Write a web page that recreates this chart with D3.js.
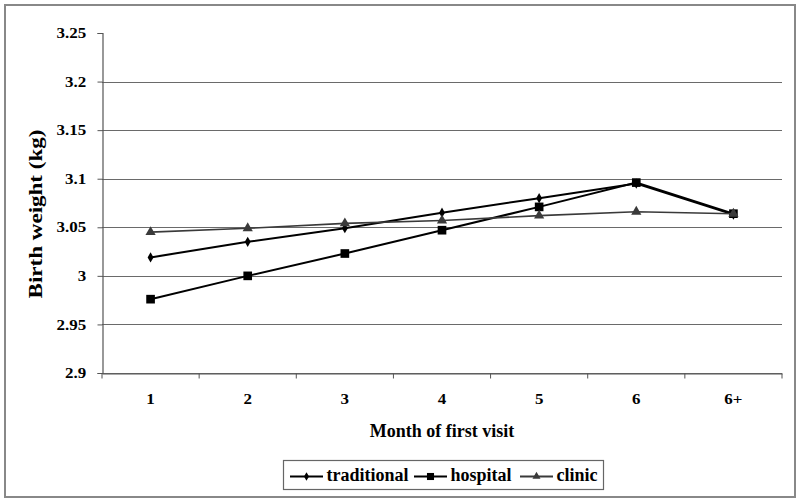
<!DOCTYPE html>
<html>
<head>
<meta charset="utf-8">
<script src="https://cdn.jsdelivr.net/npm/d3@7"></script>
<style>
body{margin:0;background:#fff;}
text{font-family:"Liberation Serif","Times New Roman",serif;font-weight:bold;fill:#000;}
</style>
</head>
<body>
<script>
var months=["1","2","3","4","5","6","6+"];
var traditional=[3.019,3.035,3.049,3.065,3.080,3.095,3.063];
var hospital=[2.976,3.000,3.023,3.047,3.071,3.096,3.064];
var clinic=[3.045,3.049,3.054,3.057,3.062,3.066,3.064];
var yTicks=[2.9,2.95,3,3.05,3.1,3.15,3.2,3.25];

var series=[
    {name:"traditional",values:traditional,color:"#000",marker:"diamond"},
    {name:"hospital",values:hospital,color:"#000",marker:"square"},
    {name:"clinic",values:clinic,color:"#3a3a3a",marker:"triangle"}
];

var W=800,H=502;
var svg=d3.select("body").append("svg").attr("width",W).attr("height",H);

// outer frame
svg.append("rect").attr("x",5).attr("y",5).attr("width",790).attr("height",492)
    .attr("fill","#fff").attr("stroke","#888").attr("stroke-width",2);

var x=d3.scaleBand().domain(months).range([102,782]);
var y=d3.scaleLinear().domain([2.9,3.25]).range([373,33]);

// gridlines
svg.append("g").selectAll("line").data(yTicks.slice(0,-1))
    .join("line")
    .attr("x1",102).attr("x2",782)
    .attr("y1",function(d){return Math.round(y(d))+0.5;})
    .attr("y2",function(d){return Math.round(y(d))+0.5;})
    .attr("stroke","#6a6a6a").attr("stroke-width",1.2);

// y axis
var yAxis=svg.append("g").attr("transform","translate(102.5,0)")
    .call(d3.axisLeft(y).tickValues(yTicks).tickSize(5).tickPadding(9).tickFormat(function(d){return String(+d.toFixed(2));}));
yAxis.select(".domain").attr("stroke","#555").attr("stroke-width",1.2);
yAxis.selectAll(".tick line").attr("stroke","#555");
yAxis.selectAll("text").style("font-size","14.5px").attr("transform","scale(1.17,1)");

// x axis
var xAxis=svg.append("g").attr("transform","translate(0,373.5)")
    .call(d3.axisBottom(x).tickSize(0).tickPadding(20));
xAxis.select(".domain").attr("stroke","#555").attr("stroke-width",1.2);
xAxis.selectAll("text").style("font-size","14.5px").attr("transform","scale(1.17,1)");
xAxis.selectAll(".bt").data(months.concat(["end"])).join("line")
    .attr("x1",function(d,i){return i<months.length?x(d):x.range()[1];})
    .attr("x2",function(d,i){return i<months.length?x(d):x.range()[1];})
    .attr("y1",0).attr("y2",5).attr("stroke","#555");

// axis titles
svg.append("text").attr("x",442).attr("y",437).attr("text-anchor","middle")
    .style("font-size","18px").text("Month of first visit");
svg.append("text").attr("transform","translate(42,214) rotate(-90) scale(1.28,1)").attr("text-anchor","middle")
    .style("font-size","18px").text("Birth weight (kg)");

var markerPath={
    diamond:d3.symbol().type(d3.symbolDiamond).size(30),
    square:d3.symbol().type(d3.symbolSquare).size(75),
    triangle:d3.symbol().type(d3.symbolTriangle).size(45)
};
var legendMarker={
    diamond:d3.symbol().type(d3.symbolDiamond).size(22),
    square:d3.symbol().type(d3.symbolSquare).size(50),
    triangle:d3.symbol().type(d3.symbolTriangle).size(28)
};

var line=d3.line()
    .x(function(d,i){return x(months[i])+x.bandwidth()/2;})
    .y(function(d){return y(d);});

var lineGroup=svg.append("g");
series.forEach(function(s){
    var g=lineGroup.append("g");
    g.append("path").attr("d",line(s.values)).attr("fill","none")
        .attr("stroke",s.color).attr("stroke-width",s.marker=="triangle"?1.6:2);
    g.selectAll("path.m").data(s.values).join("path").attr("class","m")
        .attr("transform",function(d,i){return "translate("+(x(months[i])+x.bandwidth()/2)+","+y(d)+")";})
        .attr("d",markerPath[s.marker]()).attr("fill",s.color);
});

// legend
var legend=svg.append("g");
legend.append("rect").attr("x",283.5).attr("y",460.5).attr("width",320).attr("height",29)
    .attr("fill","#fff").attr("stroke","#666").attr("stroke-width",1.2);
var legendX=[290,414,520];
series.forEach(function(s,i){
    var lg=legend.append("g").attr("transform","translate("+legendX[i]+",476.5)");
    lg.append("line").attr("x1",0).attr("x2",33).attr("y1",0).attr("y2",0)
        .attr("stroke",s.color).attr("stroke-width",2);
    lg.append("path").attr("transform","translate(16.5,0)").attr("d",legendMarker[s.marker]()).attr("fill",s.color);
    lg.append("text").attr("x",36.5).attr("y",4).style("font-size","18px").text(s.name);
});
</script>
</body>
</html>
